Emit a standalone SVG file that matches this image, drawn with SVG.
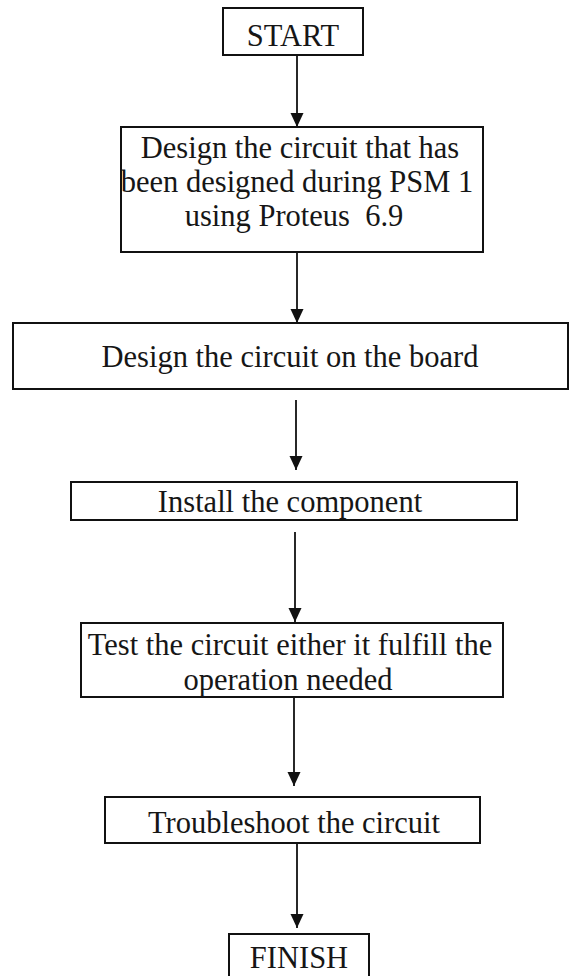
<svg xmlns="http://www.w3.org/2000/svg" width="569" height="976" viewBox="0 0 569 976">
  <defs>
    <marker id="arrow" markerUnits="userSpaceOnUse" markerWidth="14" markerHeight="14" refX="14" refY="6.5" orient="auto">
      <path d="M0,0 L14,6.5 L0,13 z" fill="#111"/>
    </marker>
    <style>
      .box { fill: #fff; stroke: #111; stroke-width: 2; }
      .label { font-family: "Liberation Serif", "Times New Roman", serif; font-size: 30.5px; fill: #161616; text-anchor: middle; }
      .link { stroke: #111; stroke-width: 1.8; fill: none; marker-end: url(#arrow); }
    </style>
  </defs>

  <rect width="569" height="976" fill="#fff"/>

  <!-- connectors -->
  <g id="connectors">
    <line class="link" x1="297" y1="55" x2="297" y2="127"/>
    <line class="link" x1="297" y1="252" x2="297" y2="323"/>
    <line class="link" x1="296" y1="400" x2="296" y2="470"/>
    <line class="link" x1="295" y1="532" x2="295" y2="622"/>
    <line class="link" x1="294" y1="697" x2="294" y2="786"/>
    <line class="link" x1="297" y1="840" x2="297" y2="928"/>
  </g>

  <g id="start">
    <rect class="box" x="223" y="8" width="140" height="47"/>
    <text class="label" x="293" y="46">START</text>
  </g>

  <g id="design-proteus">
    <rect class="box" x="121" y="127" width="362" height="125"/>
    <text class="label" x="300" y="158">Design the circuit that has</text>
    <text class="label" x="297" y="192">been designed during PSM 1</text>
    <text class="label" x="294" y="226" style="white-space:pre">using Proteus  6.9</text>
  </g>

  <g id="design-board">
    <rect class="box" x="13" y="323" width="555" height="66"/>
    <text class="label" x="290" y="367">Design the circuit on the board</text>
  </g>

  <g id="install">
    <rect class="box" x="71" y="482" width="446" height="38"/>
    <text class="label" x="290" y="512">Install the component</text>
  </g>

  <g id="test">
    <rect class="box" x="81" y="623" width="422" height="74"/>
    <text class="label" x="290" y="655">Test the circuit either it fulfill the</text>
    <text class="label" x="288" y="690">operation needed</text>
  </g>

  <g id="troubleshoot">
    <rect class="box" x="105" y="797" width="375" height="46"/>
    <text class="label" x="294" y="833">Troubleshoot the circuit</text>
  </g>

  <g id="finish">
    <rect class="box" x="229" y="934" width="140" height="50"/>
    <text class="label" x="299" y="968">FINISH</text>
  </g>
</svg>
